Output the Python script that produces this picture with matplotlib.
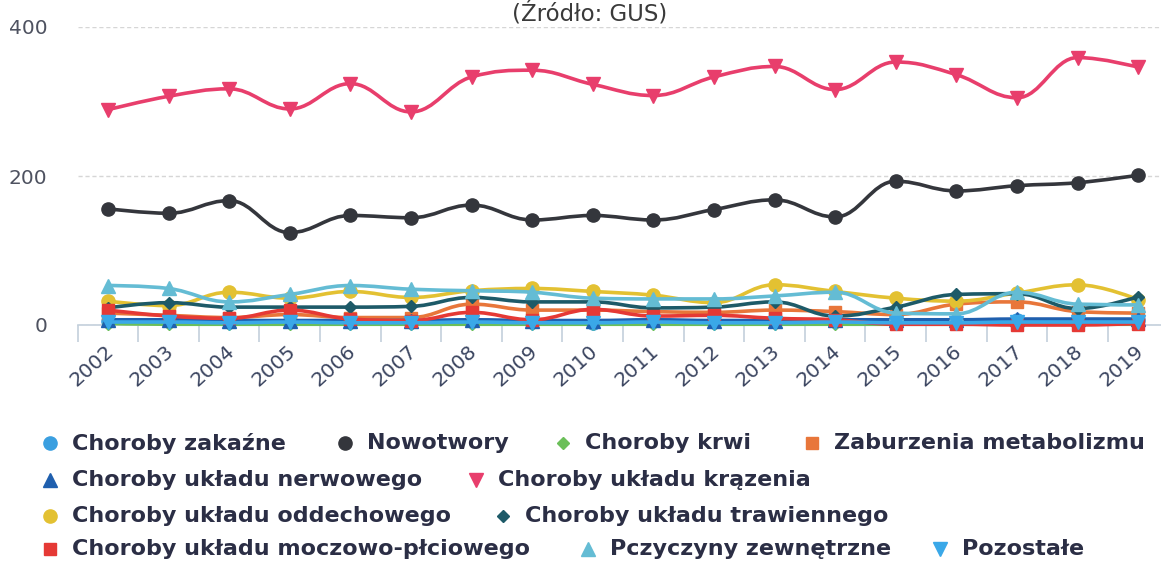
import matplotlib.pyplot as plt
import numpy as np
from matplotlib.path import Path
from matplotlib.patches import PathPatch
from matplotlib.transforms import ScaledTranslation

lata = ['2002', '2003', '2004', '2005', '2006', '2007', '2008', '2009', '2010',
        '2011', '2012', '2013', '2014', '2015', '2016', '2017', '2018', '2019']

zakazne = [5, 5, 4, 5, 4, 4, 6, 4, 3, 5, 4, 5, 7, 5, 5, 7, 7, 7]
nowotwory = [156, 150, 167, 124, 147, 144, 161, 141, 147, 141, 155, 168, 145, 193, 180, 187, 191, 201]
krwi = [2, 1, 1, 1, 1, 1, 1, 1, 1, 1, 1, 1, 1, 1, 1, 1, 1, 1]
metabolizm = [16, 13, 10, 14, 10, 10, 28, 20, 20, 18, 17, 20, 18, 14, 28, 31, 18, 16]
nerwowy = [7, 7, 6, 6, 6, 6, 7, 6, 6, 7, 6, 6, 7, 7, 7, 8, 8, 8]
krazenie = [289, 307, 317, 290, 324, 286, 333, 342, 323, 308, 333, 347, 316, 353, 336, 305, 359, 346]
oddechowy = [32, 26, 44, 36, 45, 37, 46, 49, 45, 40, 30, 54, 45, 36, 32, 43, 54, 34]
trawienny = [23, 30, 24, 24, 24, 25, 37, 31, 31, 23, 24, 31, 12, 24, 41, 42, 22, 38]
moczowo = [20, 12, 9, 20, 8, 6, 17, 7, 21, 12, 13, 9, 7, 1, 1, 0, 0, 2]
zewnetrzne = [53, 49, 31, 41, 53, 48, 46, 44, 36, 35, 35, 39, 44, 16, 15, 44, 28, 27]
pozostale = [4, 4, 3, 4, 3, 3, 4, 3, 3, 4, 3, 3, 4, 3, 3, 4, 4, 4]

serie = [
    ('Choroby zakaźne', zakazne, '#3a9fe0', 'o', 9.5),
    ('Nowotwory', nowotwory, '#34363c', 'o', 9.5),
    ('Choroby krwi', krwi, '#6bbf59', 'D', 6.5),
    ('Zaburzenia metabolizmu', metabolizm, '#e8763a', 's', 8.5),
    ('Choroby układu nerwowego', nerwowy, '#1f5fae', '^', 9.5),
    ('Choroby układu krązenia', krazenie, '#e83e6c', 'v', 9.5),
    ('Choroby układu oddechowego', oddechowy, '#e3c132', 'o', 9.5),
    ('Choroby układu trawiennego', trawienny, '#1d5a68', 'D', 6.5),
    ('Choroby układu moczowo-płciowego', moczowo, '#e53935', 's', 8.5),
    ('Pczyczyny zewnętrzne', zewnetrzne, '#64bcd4', '^', 9.5),
    ('Pozostałe', pozostale, '#3aa8e8', 'v', 9.5),
]


def spline_path(ys):
    # krzywa w stylu Highcharts (smoothing 1.5)
    xs = np.arange(len(ys), dtype=float)
    ys = np.asarray(ys, dtype=float)
    n = len(xs)
    lc = [None] * n
    rc = [None] * n
    for i in range(1, n - 1):
        px, py = xs[i], ys[i]
        lx, ly = xs[i - 1], ys[i - 1]
        nx, ny = xs[i + 1], ys[i + 1]
        lcx = (1.5 * px + lx) / 2.5
        lcy = (1.5 * py + ly) / 2.5
        rcx = (1.5 * px + nx) / 2.5
        rcy = (1.5 * py + ny) / 2.5
        corr = (rcy - lcy) * (rcx - px) / (rcx - lcx) + py - rcy
        lcy += corr
        rcy += corr
        if lcy > ly and lcy > py:
            lcy = max(ly, py)
            rcy = 2 * py - lcy
        elif lcy < ly and lcy < py:
            lcy = min(ly, py)
            rcy = 2 * py - lcy
        if rcy > ny and rcy > py:
            rcy = max(ny, py)
            lcy = 2 * py - rcy
        elif rcy < ny and rcy < py:
            rcy = min(ny, py)
            lcy = 2 * py - rcy
        lc[i] = (lcx, lcy)
        rc[i] = (rcx, rcy)
    verts = [(xs[0], ys[0])]
    codes = [Path.MOVETO]
    for i in range(1, n):
        c1 = rc[i - 1] if rc[i - 1] is not None else (xs[i - 1], ys[i - 1])
        c2 = lc[i] if lc[i] is not None else (xs[i], ys[i])
        verts += [c1, c2, (xs[i], ys[i])]
        codes += [Path.CURVE4] * 3
    return Path(verts, codes)


fig = plt.figure(figsize=(11.61, 5.63), dpi=100)
ax = fig.add_axes([77.7 / 1161, 1 - 325 / 563, 1090.8 / 1161, (325 - 27) / 563])

x = np.arange(len(lata))
for k, (nazwa, wart, kolor, mk, ms) in enumerate(serie):
    ax.add_patch(PathPatch(spline_path(wart), fill=False, edgecolor=kolor,
                           linewidth=2.6, zorder=3 + k, clip_on=False))
    ax.plot(x, wart, linestyle='none', marker=mk, markersize=ms, color=kolor,
            markeredgecolor=kolor, zorder=3.5 + k, clip_on=False)

ax.set_xlim(-0.5, len(lata) - 0.5)
ax.set_ylim(0, 400)
ax.set_yticks([0, 200, 400])
ax.tick_params(axis='y', length=0, pad=22, labelsize=14.5, labelcolor='#4e5260')
ax.grid(axis='y', color='#d6d6d6', linestyle=(0, (3, 2)), linewidth=1, zorder=0)

ax.set_xticks(x)
ax.set_xticklabels(lata)
ax.set_xticks(np.arange(-0.5, len(lata), 1), minor=True)
ax.tick_params(axis='x', which='major', length=0, pad=17, labelsize=14.5, labelcolor='#3b4560')
ax.tick_params(axis='x', which='minor', length=12, width=1.2, color='#c4d0dc', direction='out')
for lab in ax.get_xticklabels():
    lab.set_rotation(42)
    lab.set_ha('right')
    lab.set_va('center')
    lab.set_rotation_mode('anchor')
    lab.set_transform(lab.get_transform() + ScaledTranslation(2 / 72, 0, fig.dpi_scale_trans))

for s in ['top', 'right', 'left']:
    ax.spines[s].set_visible(False)
ax.spines['bottom'].set_color('#c4d0dc')
ax.spines['bottom'].set_linewidth(1.2)
ax.set_facecolor('none')

# tytuł i legenda w pikselach obrazu
lax = fig.add_axes([0, 0, 1, 1], zorder=-1)
lax.set_xlim(0, 1161)
lax.set_ylim(563, 0)
lax.axis('off')
lax.text(590, 14, '(Źródło: GUS)', ha='center', va='center', fontsize=16.5, color='#3a3a3a')

pozycje = [(50, 443), (345, 443), (563, 443), (812, 443),
           (50, 480), (476, 480),
           (50, 516), (503, 516),
           (50, 549), (588, 549), (940, 549)]
for (nazwa, wart, kolor, mk, ms), (px, py) in zip(serie, pozycje):
    lax.plot([px], [py], marker=mk, markersize=ms, color=kolor, linestyle='none')
    lax.text(px + 22, py, nazwa, ha='left', va='center', fontsize=16,
             fontweight='bold', color='#2b2e45')

fig.savefig('out.png', dpi=100)
